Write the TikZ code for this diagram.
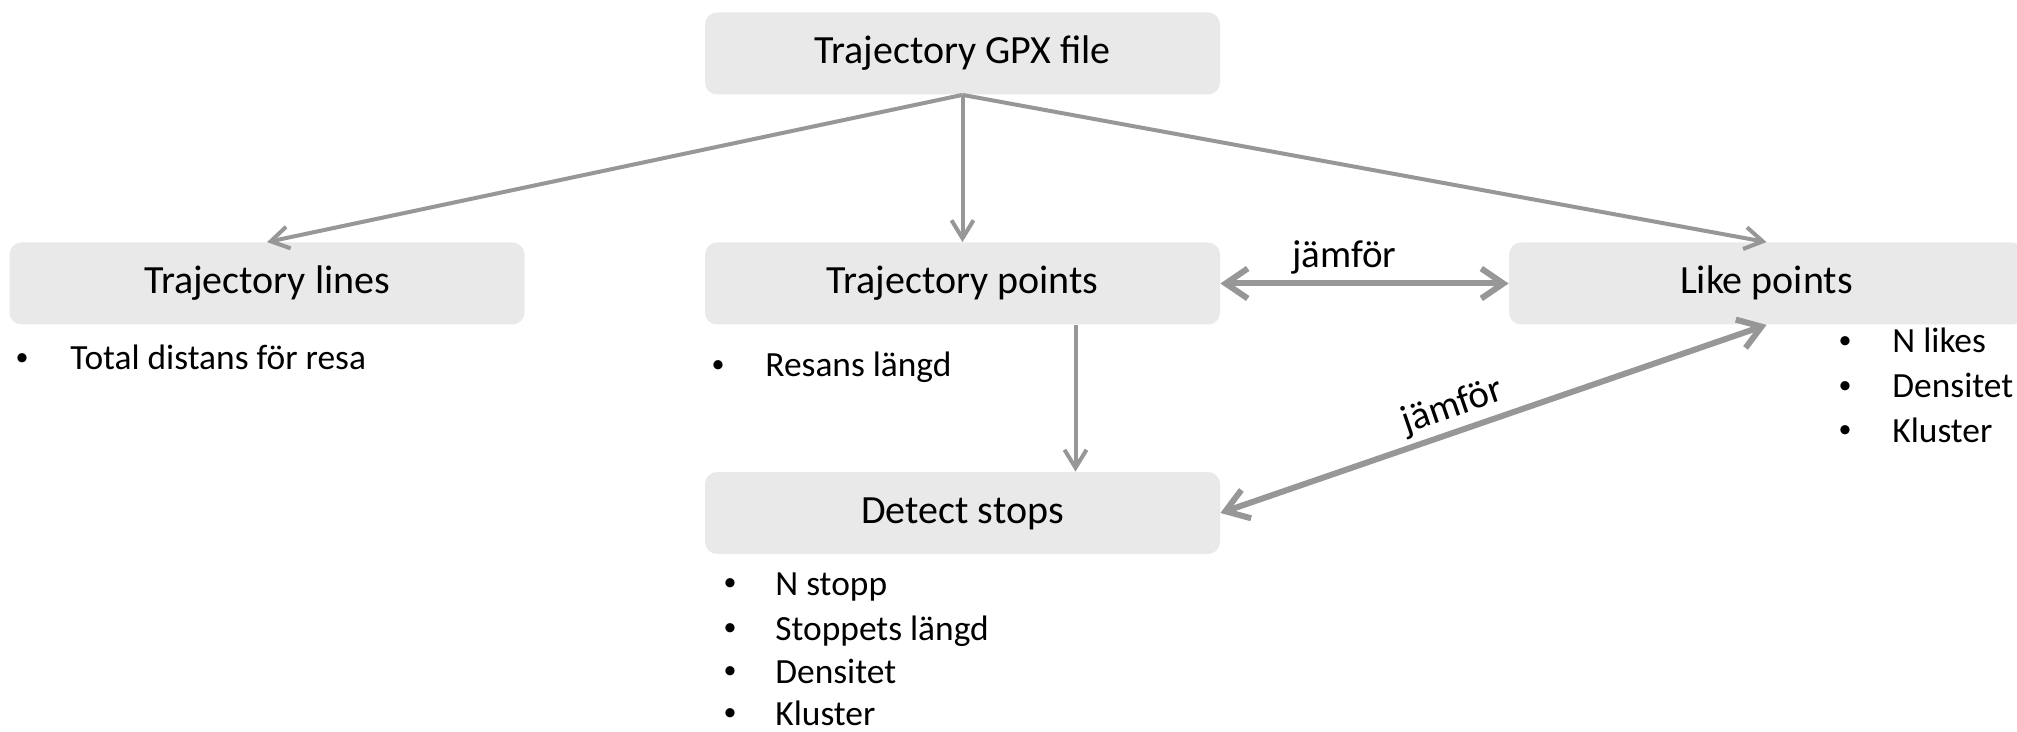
\documentclass[tikz,border=0pt]{standalone}
\usepackage{fontspec}
\setmainfont{Carlito}
\usetikzlibrary{arrows.meta}
\definecolor{boxfill}{HTML}{E9E9E9}
\definecolor{linegray}{HTML}{979797}
\tikzset{
  box/.style={fill=boxfill, rounded corners=6pt, minimum width=257.5pt, minimum height=41pt, inner sep=0pt, text height=10.5pt, text depth=0pt, font=\fontsize{20}{24}\selectfont},
  thinarrow/.style={draw=linegray, line width=2pt, -{Straight Barb[length=9pt,width=11pt]}},
  thickarrow/.style={draw=linegray, line width=3pt, {Straight Barb[length=11pt,width=15pt]}-{Straight Barb[length=11pt,width=15pt]}},
  bulletdot/.style={anchor=base, inner sep=0pt, yshift=2.3pt, font=\fontsize{13}{15}\selectfont},
  itemtext/.style={anchor=base west, inner sep=0pt, font=\fontsize{17.7}{20}\selectfont},
  edgelabel/.style={font=\fontsize{19.5}{22}\selectfont, inner sep=0pt}
}
\begin{document}
\begin{tikzpicture}[x=0.5pt,y=-0.5pt]
\useasboundingbox (0,0) rectangle (2017,732);
\clip (0,0) rectangle (2017,732);
% boxes
\node[box] (gpx) at (962.5,53.5) {Trajectory GPX file};
\node[box] (lines) at (267,283.5) {Trajectory lines};
\node[box] (points) at (962.5,283.5) {Trajectory points};
\node[box] (likes) at (1766.5,283.5) {Like points};
\node[box] (stops) at (962.5,513) {Detect stops};
% connectors
\draw[thinarrow] (gpx.south) -- (lines.north);
\draw[thinarrow] (gpx.south) -- (points.north);
\draw[thinarrow] (gpx.south) -- (likes.north);
\draw[thinarrow] ([xshift=56.5pt]points.south) -- ([xshift=56.5pt]stops.north);
\draw[thickarrow] (points.east) -- node[edgelabel, pos=0.43, above=3pt] (lab1) {jämför} (likes.west);
\draw[thickarrow] (stops.east) -- node[edgelabel, pos=0.44, sloped, above=2.5pt] (lab2) {jämför} (likes.south);
% bullet lists
\node[bulletdot] (b1) at (22,370) {•};
\node[itemtext] (t1) at (70,370) {Total distans för resa};
\node[bulletdot] (b2) at (718,377) {•};
\node[itemtext] (t2) at (765,377) {Resans längd};
\node[bulletdot] (b3) at (1845,353) {•};
\node[itemtext] (t3) at (1892,353) {N likes};
\node[bulletdot] (b4) at (1845,398) {•};
\node[itemtext] (t4) at (1892,398) {Densitet};
\node[bulletdot] (b5) at (1845,442) {•};
\node[itemtext] (t5) at (1892,442) {Kluster};
\node[bulletdot] (b6) at (730,595) {•};
\node[itemtext] (t6) at (775,595) {N stopp};
\node[bulletdot] (b7) at (730,640) {•};
\node[itemtext] (t7) at (775,640) {Stoppets längd};
\node[bulletdot] (b8) at (730,683) {•};
\node[itemtext] (t8) at (775,683) {Densitet};
\node[bulletdot] (b9) at (730,725) {•};
\node[itemtext] (t9) at (775,725) {Kluster};
\end{tikzpicture}
\end{document}
